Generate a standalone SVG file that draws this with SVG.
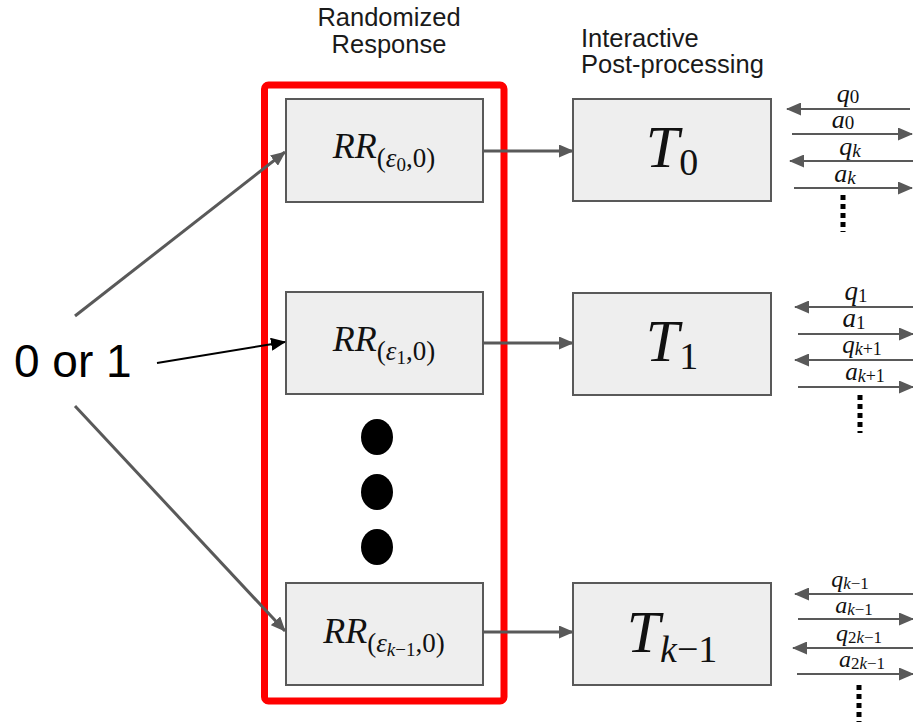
<svg xmlns="http://www.w3.org/2000/svg" width="913" height="722" viewBox="0 0 913 722">
<style>
.box{fill:#eeeeee;stroke:#595959;stroke-width:2}
.hdr{font-family:"Liberation Sans",Arial,sans-serif;font-size:25.5px;fill:#1a1a1a;text-anchor:middle}
.conn{stroke:#595959;stroke-width:3;fill:none}
.qa{stroke:#595959;stroke-width:2.2;fill:none}
.m{font-family:"Liberation Serif","DejaVu Serif",serif;fill:#111;text-anchor:middle}
.it{font-style:italic}
.dots{stroke:#000;stroke-width:5;stroke-dasharray:5 4}
</style>
<defs>
<marker id="ag" markerUnits="userSpaceOnUse" markerWidth="15" markerHeight="13" refX="14" refY="6.5" orient="auto">
<path d="M0,0 L15,6.5 L0,13 z" fill="#595959"/>
</marker>
<marker id="ab" markerUnits="userSpaceOnUse" markerWidth="15" markerHeight="13" refX="14" refY="6.5" orient="auto">
<path d="M0,0 L15,6.5 L0,13 z" fill="#000"/>
</marker>
</defs>
<rect width="913" height="722" fill="#fff"/>

<g id="headers">
<text class="hdr" x="389" y="26">Randomized</text>
<text class="hdr" x="389" y="53">Response</text>
<text class="hdr" x="581" y="47" style="text-anchor:start">Interactive</text>
<text class="hdr" x="581" y="73" style="text-anchor:start">Post-processing</text>
</g>

<g id="input">
<text x="14" y="377" font-family="Liberation Sans,Arial,sans-serif" font-size="46" fill="#000">0 or 1</text>
</g>

<g id="rr-group">
<rect x="264.5" y="85" width="239.5" height="616" rx="4" fill="none" stroke="#ff0000" stroke-width="7"/>
</g>

<g id="rr0">
<rect class="box" x="286" y="99" width="197" height="103"/>
<text class="m" x="384" y="158" font-size="36"><tspan class="it">RR</tspan><tspan font-size="27" dy="9">(<tspan class="it">ε</tspan><tspan font-size="19" dy="4">0</tspan><tspan dy="-4">,0)</tspan></tspan></text>
</g>
<g id="rr1">
<rect class="box" x="286" y="292" width="197" height="102"/>
<text class="m" x="384" y="351" font-size="36"><tspan class="it">RR</tspan><tspan font-size="27" dy="9">(<tspan class="it">ε</tspan><tspan font-size="19" dy="4">1</tspan><tspan dy="-4">,0)</tspan></tspan></text>
</g>
<g id="rrk">
<rect class="box" x="286" y="583" width="197" height="102"/>
<text class="m" x="384" y="643" font-size="36"><tspan class="it">RR</tspan><tspan font-size="27" dy="9">(<tspan class="it">ε</tspan><tspan font-size="19" dy="4"><tspan class="it">k</tspan>−1</tspan><tspan dy="-4">,0)</tspan></tspan></text>
</g>

<g id="ellipsis">
<ellipse cx="377" cy="437" rx="16" ry="18" fill="#000"/>
<ellipse cx="377" cy="492" rx="16" ry="18" fill="#000"/>
<ellipse cx="377" cy="547" rx="16" ry="18" fill="#000"/>
</g>

<g id="t0">
<rect class="box" x="573" y="99" width="198" height="102"/>
<text class="m" x="672" y="167" font-size="60"><tspan class="it">T</tspan><tspan font-size="38" dy="8">0</tspan></text>
</g>
<g id="t1">
<rect class="box" x="573" y="293" width="198" height="102"/>
<text class="m" x="672" y="361" font-size="60"><tspan class="it">T</tspan><tspan font-size="38" dy="8">1</tspan></text>
</g>
<g id="tk">
<rect class="box" x="573" y="583" width="198" height="102"/>
<text class="m" x="672" y="652" font-size="60"><tspan class="it">T</tspan><tspan font-size="38" dy="10"><tspan class="it">k</tspan>−1</tspan></text>
</g>

<g id="connectors">
<line class="conn" x1="75" y1="316" x2="285" y2="152" marker-end="url(#ag)"/>
<line x1="157" y1="363" x2="285" y2="342" stroke="#000" stroke-width="2" marker-end="url(#ab)"/>
<line class="conn" x1="75" y1="406" x2="285" y2="631" marker-end="url(#ag)"/>
<line class="conn" x1="483" y1="151" x2="573" y2="151" marker-end="url(#ag)"/>
<line class="conn" x1="483" y1="343" x2="573" y2="343" marker-end="url(#ag)"/>
<line class="conn" x1="483" y1="632" x2="573" y2="632" marker-end="url(#ag)"/>
</g>

<g id="messages0">
<line class="qa" x1="910" y1="109" x2="787" y2="109" marker-end="url(#ag)"/>
<line class="qa" x1="792" y1="134" x2="912" y2="134" marker-end="url(#ag)"/>
<line class="qa" x1="913" y1="161" x2="790" y2="161" marker-end="url(#ag)"/>
<line class="qa" x1="794" y1="188" x2="912" y2="188" marker-end="url(#ag)"/>
<text class="m" x="848" y="102" font-size="26"><tspan class="it">q</tspan><tspan font-size="19" dy="1">0</tspan></text>
<text class="m" x="843" y="128" font-size="26"><tspan class="it">a</tspan><tspan font-size="19" dy="1">0</tspan></text>
<text class="m" x="850" y="155" font-size="26"><tspan class="it">q</tspan><tspan font-size="19" dy="2" class="it">k</tspan></text>
<text class="m" x="845" y="182" font-size="26"><tspan class="it">a</tspan><tspan font-size="19" dy="2" class="it">k</tspan></text>
<line class="dots" x1="843" y1="195" x2="843" y2="232"/>
</g>

<g id="messages1">
<line class="qa" x1="913" y1="307" x2="795" y2="307" marker-end="url(#ag)"/>
<line class="qa" x1="798" y1="334" x2="913" y2="334" marker-end="url(#ag)"/>
<line class="qa" x1="913" y1="360" x2="795" y2="360" marker-end="url(#ag)"/>
<line class="qa" x1="798" y1="387" x2="913" y2="387" marker-end="url(#ag)"/>
<text class="m" x="856" y="300" font-size="27"><tspan class="it">q</tspan><tspan font-size="19" dy="2">1</tspan></text>
<text class="m" x="854" y="327" font-size="27"><tspan class="it">a</tspan><tspan font-size="19" dy="2">1</tspan></text>
<text class="m" x="862" y="353" font-size="25"><tspan class="it">q</tspan><tspan font-size="18" dy="2"><tspan class="it">k</tspan>+1</tspan></text>
<text class="m" x="865" y="380" font-size="25"><tspan class="it">a</tspan><tspan font-size="18" dy="2"><tspan class="it">k</tspan>+1</tspan></text>
<line class="dots" x1="860" y1="395" x2="860" y2="433"/>
</g>

<g id="messages2">
<line class="qa" x1="913" y1="594" x2="795" y2="594" marker-end="url(#ag)"/>
<line class="qa" x1="798" y1="619" x2="913" y2="619" marker-end="url(#ag)"/>
<line class="qa" x1="913" y1="648" x2="793" y2="648" marker-end="url(#ag)"/>
<line class="qa" x1="797" y1="674" x2="913" y2="674" marker-end="url(#ag)"/>
<text class="m" x="850" y="587" font-size="24"><tspan class="it">q</tspan><tspan font-size="17" dy="2"><tspan class="it">k</tspan>−1</tspan></text>
<text class="m" x="854" y="613" font-size="24"><tspan class="it">a</tspan><tspan font-size="17" dy="2"><tspan class="it">k</tspan>−1</tspan></text>
<text class="m" x="859" y="641" font-size="24"><tspan class="it">q</tspan><tspan font-size="17" dy="2">2<tspan class="it">k</tspan>−1</tspan></text>
<text class="m" x="862" y="667" font-size="24"><tspan class="it">a</tspan><tspan font-size="17" dy="2">2<tspan class="it">k</tspan>−1</tspan></text>
<line class="dots" x1="859" y1="685" x2="859" y2="722"/>
</g>
</svg>
